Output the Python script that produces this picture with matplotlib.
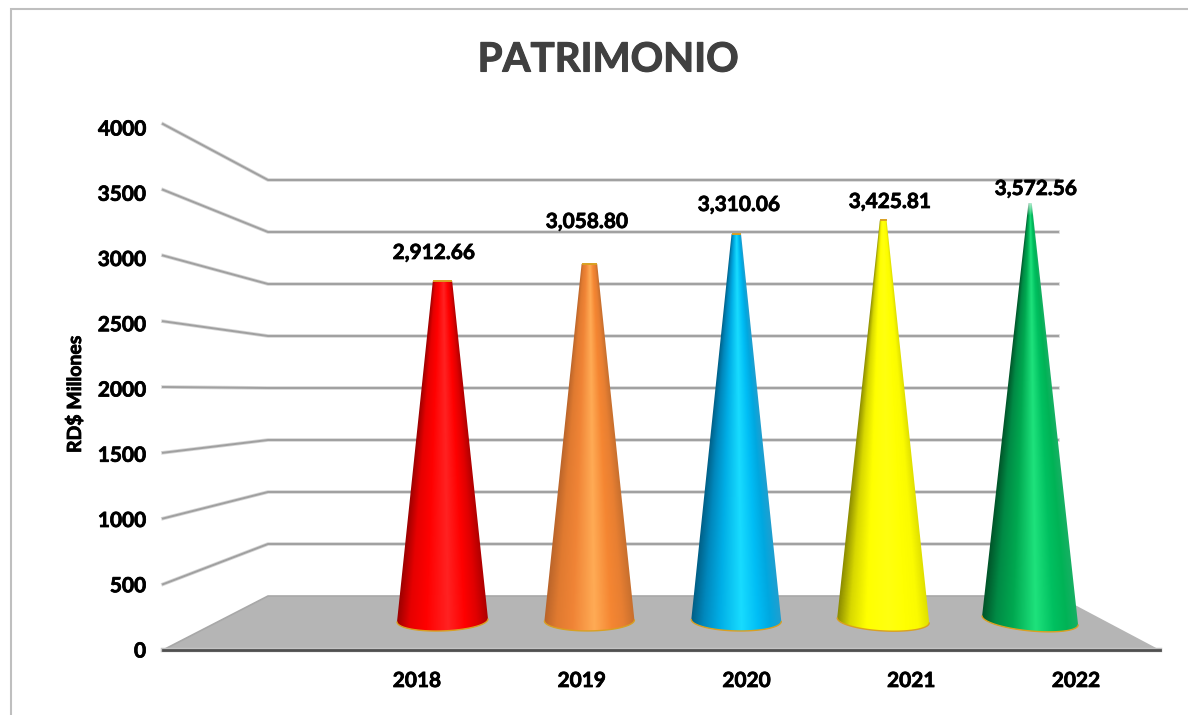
import numpy as np
import matplotlib
matplotlib.use("Agg")
import matplotlib.pyplot as plt
import matplotlib.patheffects as pe
from matplotlib.colors import LinearSegmentedColormap, to_rgb
from matplotlib.patches import Polygon, PathPatch
from matplotlib.path import Path

# ---------- data ----------
years = ["2018", "2019", "2020", "2021", "2022"]
patrimonio = [2912.66, 3058.80, 3310.06, 3425.81, 3572.56]
value_labels = ["2,912.66", "3,058.80", "3,310.06", "3,425.81", "3,572.56"]
y_ticks = [0, 500, 1000, 1500, 2000, 2500, 3000, 3500, 4000]
title = "PATRIMONIO"
y_title = "RD$ Millones"

# ---------- styles / layout ----------
cone_gradients = [
    ["#9c0000", "#e60000", "#ff0000", "#ff2222", "#ff0000", "#e00000", "#b00000"],
    ["#b9642a", "#e07a30", "#f08436", "#ffab55", "#f58632", "#e87f32", "#c9702e"],
    ["#005f86", "#0088bd", "#00aee6", "#18dcff", "#00bdf5", "#00a8e0", "#1f9fd0"],
    ["#8c8c00", "#d8d800", "#ffff00", "#ffff10", "#ffff00", "#fbfb00", "#e0e000"],
    ["#00562a", "#008a45", "#00a850", "#1ee27c", "#00c060", "#00b356", "#18b064"],
]
base_widths = [91, 90, 90, 92, 96]
base_tilts = [-3, -1, 2, 5, 9]
label_xy = [(434, 253), (587, 222), (739, 205), (890, 202), (1036, 189)]
CONE_APEX_VALUE = 3700
CONE_DEPTH = 0.47
FONT = "Lato"
BOLDER = [pe.withStroke(linewidth=0.55, foreground="black")]

W, H = 1188, 715
fig = plt.figure(figsize=(W / 100, H / 100), dpi=100, facecolor="white")
ax = fig.add_axes([0, 0, 1, 1])
ax.set_axis_off()


def project_y(value, depth):
    """Perspective scale: depth 0 = front of floor, 1 = back wall."""
    front = 650 - 0.1315 * value
    back = 596 - 0.1040 * value
    return front + (back - front) * depth


X_FRONT_L, X_BACK_L, X_BACK_R, X_FRONT_R = 163, 268, 1058, 1160

# chart frame (top and left only)
ax.plot([11, 11, W], [H, 9, 9], color="#bfbfbf", lw=1.5, solid_joinstyle="miter", zorder=1)

# floor
floor = Polygon([(X_FRONT_L, project_y(0, 0)), (X_BACK_L, project_y(0, 1)),
                 (X_BACK_R, project_y(0, 1)), (X_FRONT_R, project_y(0, 0))],
                closed=True, facecolor="#b5b5b5", edgecolor="none", zorder=2)
ax.add_patch(floor)

# gridlines along side wall and back wall
for v in y_ticks[1:]:
    ax.plot([X_FRONT_L, X_BACK_L, X_BACK_R], [project_y(v, 0), project_y(v, 1), project_y(v, 1)],
            color="#d6d6d6", lw=2.6, solid_joinstyle="round", zorder=2)
    ax.plot([X_FRONT_L, X_BACK_L, X_BACK_R], [project_y(v, 0), project_y(v, 1), project_y(v, 1)],
            color="#a0a0a0", lw=1.4, solid_joinstyle="round", zorder=2.1)
ax.plot([X_FRONT_L, X_BACK_L, X_BACK_R], [project_y(0, 0), project_y(0, 1), project_y(0, 1)],
        color="#a8a8a8", lw=1.2, zorder=2.2)

# front axis line
ax.plot([X_FRONT_L, X_FRONT_R], [project_y(0, 0)] * 2, color="#c4c4c4", lw=3.2, zorder=2.3)
ax.plot([X_FRONT_L, X_FRONT_R], [project_y(0, 0)] * 2, color="#505050", lw=2.0, zorder=2.4)

# cones
for i, val in enumerate(patrimonio):
    xc = 442.5 + 146.9 * i
    yb = project_y(0, CONE_DEPTH) - 4.2
    ytop = project_y(val, CONE_DEPTH) + 2
    half = base_widths[i] / 2
    slope = base_tilts[i] / base_widths[i]
    top_half = half * (1 - val / CONE_APEX_VALUE)
    b_arc = 10.5

    t = np.linspace(np.pi, 0, 60)
    arc_x = xc + half * np.cos(t)
    arc_y = yb + half * np.cos(t) * slope + b_arc * np.sin(t)
    poly = np.column_stack([
        np.r_[xc - top_half, arc_x, xc + top_half],
        np.r_[ytop, arc_y, ytop],
    ])
    clip = PathPatch(Path(np.r_[poly, poly[:1]], closed=True), transform=ax.transData,
                     facecolor="none", edgecolor="none")
    ax.add_patch(clip)

    # conic gradient: colour depends on the fraction across the cone on each row
    cmap = LinearSegmentedColormap.from_list(
        f"c{i}", list(zip([0, .14, .32, .56, .75, .88, 1], [to_rgb(c) for c in cone_gradients[i]])))
    x0, x1 = xc - half - 2, xc + half + 2
    y0, y1 = ytop - 1, yb + b_arc + 8
    nx, ny = int((x1 - x0) * 3), int((y1 - y0) * 2)
    xs = np.linspace(x0, x1, nx)
    ys = np.linspace(y0, y1, ny)
    gx, gy = np.meshgrid(xs, ys)
    frac_h = np.clip((gy - ytop) / (yb - ytop), 0, 1.1)
    hw = top_half + (half - top_half) * frac_h
    rgba = cmap(np.clip((gx - xc) / hw * 0.5 + 0.5, 0, 1))
    rgba[..., 3] = np.clip((hw - 1.0) / 2.0, 0, 1)
    im = ax.imshow(rgba, extent=(x0, x1, y1, y0), aspect="auto", interpolation="bilinear", zorder=3)
    im.set_clip_path(clip)

    # gold rim at the base and top
    ax.plot(arc_x, arc_y, color="#d9a021", lw=1.0, zorder=3.2, solid_capstyle="round")
    if top_half > 3:
        ax.plot([xc - top_half + 1, xc + top_half - 1], [ytop, ytop], color="#d9a021", lw=1.4, zorder=3.2)

    ax.text(*label_xy[i], value_labels[i], ha="center", va="center", family=FONT,
            fontweight="bold", fontsize=15, color="black", zorder=5, path_effects=BOLDER)

# y tick labels
for v in y_ticks:
    ax.text(146, 651.5 - 0.1305 * v, str(v), ha="right", va="center", family=FONT,
            fontweight="bold", fontsize=15, color="black", path_effects=BOLDER)

# x tick labels
for i, y in enumerate(years):
    ax.text(417 + 164.75 * i, 681, y, ha="center", va="center", family=FONT,
            fontweight="bold", fontsize=15, color="black", path_effects=BOLDER)

ax.text(75, 394, y_title, rotation=90, ha="center", va="center", family=FONT,
        fontweight="bold", fontsize=14, color="black", path_effects=BOLDER)
ax.text(608, 60, title, ha="center", va="center", family=FONT,
        fontweight="bold", fontsize=29, color="#404040",
        path_effects=[pe.withStroke(linewidth=0.8, foreground="#404040")])

ax.set_xlim(0, W)
ax.set_ylim(H, 0)
fig.savefig("out.png", dpi=100, facecolor="white")
